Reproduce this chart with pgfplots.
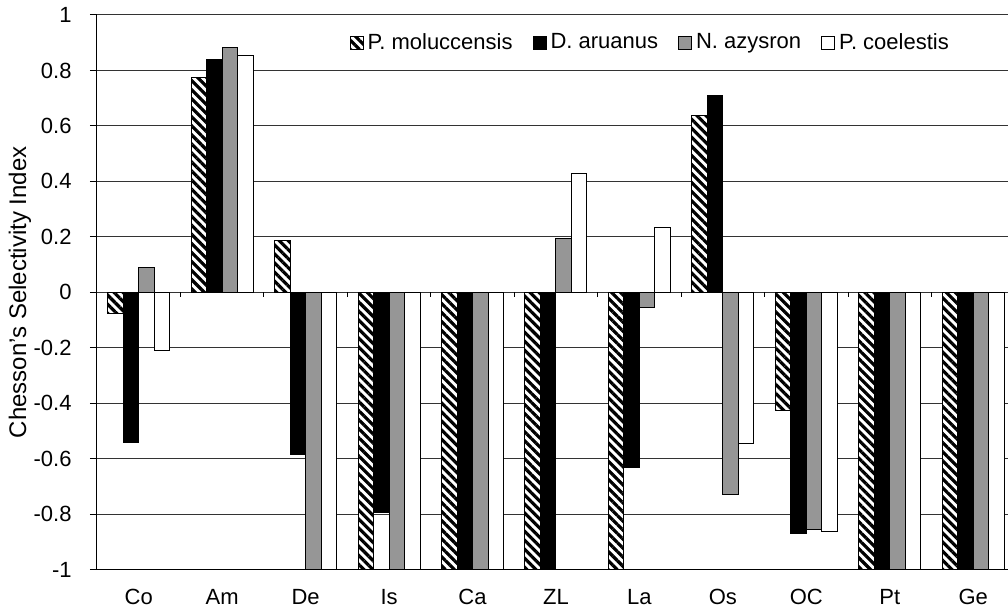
\documentclass[border=0pt]{standalone}
\usepackage{fontspec}
\setmainfont{Liberation Sans}
\usepackage{pgfplots}
\usepackage{pgfplotstable}
\pgfplotsset{compat=1.18}
\usetikzlibrary{patterns.meta,calc}

\definecolor{midgray}{RGB}{150,150,150}

% selectivity index per prey category
\pgfplotstableread{
x  pm     da     na     pc
0  -0.076 -0.54  0.09   -0.21
1  0.776  0.838  0.884  0.854
2  0.187  -0.584 -1     -1
3  -1     -0.794 -1     -1
4  -1     -1     -1     -1
5  -1     -1     0.193  0.428
6  -1     -0.63  -0.053 0.232
7  0.637  0.711  -0.729 -0.544
8  -0.426 -0.868 -0.854 -0.864
9  -1     -1     -1     -1
10 -1     -1     -1     -1
}\selidx

\begin{document}
\fontsize{11}{13}\selectfont
\begin{tikzpicture}
\begin{axis}[
    scale only axis, width=455.5pt, height=277.5pt,
    xmin=-0.5, xmax=10.41, ymin=-1, ymax=1,
    ybar=0pt, bar width=7.75pt,
    axis y line*=left, axis x line*=bottom,
    axis line style={line width=0.5pt, black},
    xtick={0,...,10},
    xticklabels={Co,Am,De,Is,Ca,ZL,La,Os,OC,Pt,Ge},
    ytick={-1,-0.8,-0.6,-0.4,-0.2,0,0.2,0.4,0.6,0.8,1},
    yticklabels={-1,-0.8,-0.6,-0.4,-0.2,0,0.2,0.4,0.6,0.8,1},
    x tick style={draw=none}, xtick pos=bottom,
    ytick pos=left, tick align=outside, major tick length=3.5pt,
    y tick style={line width=0.5pt, black},
    ymajorgrids, grid style={line width=0.5pt, black!80},
    xticklabel style={inner sep=0pt, anchor=base, yshift=-14pt},
    yticklabel style={inner sep=0pt, anchor=east, xshift=-9pt},
    ylabel={Chesson's Selectivity Index},
    ylabel style={font=\fontsize{12}{14}\selectfont,
        at={([xshift=-38.5pt]axis description cs:0,0.5)}, anchor=center, inner sep=0pt},
    legend columns=-1,
    legend style={draw=none, fill=none, inner sep=0pt,
        at={(axis description cs:0.277,0.95)}, anchor=west,
        nodes={inner sep=2pt},
        /tikz/every even column/.append style={column sep=8pt},
        /tikz/every odd column/.append style={column sep=0pt}},
    legend image code/.code={\draw[#1, line width=0.5pt] (0pt,-3.25pt) rectangle (6.5pt,3.25pt);},
    every axis plot/.append style={draw=black, line width=0.5pt},
]
\addplot[preaction={fill=white}, pattern={Lines[angle=-45,distance=3.2pt,line width=1.6pt]}]
    table[x=x, y=pm] {\selidx};
\addlegendentry{P. moluccensis}
\addplot[fill=black] table[x=x, y=da] {\selidx};
\addlegendentry{D. aruanus}
\addplot[fill=midgray] table[x=x, y=na] {\selidx};
\addlegendentry{N. azysron}
\addplot[fill=white] table[x=x, y=pc] {\selidx};
\addlegendentry{P. coelestis}
% category dividers on the zero line
\pgfplotsinvokeforeach{0.5,1.5,2.5,3.5,4.5,5.5,6.5,7.5,8.5,9.5}{
    \draw[line width=0.5pt] (axis cs:#1,0) -- ++(0pt,-2.5pt);
}
\end{axis}
\path ($(current axis.south west)+(-48.5pt,-21.5pt)$) rectangle ($(current axis.north east)+(0pt,7.5pt)$);
\end{tikzpicture}
\end{document}
